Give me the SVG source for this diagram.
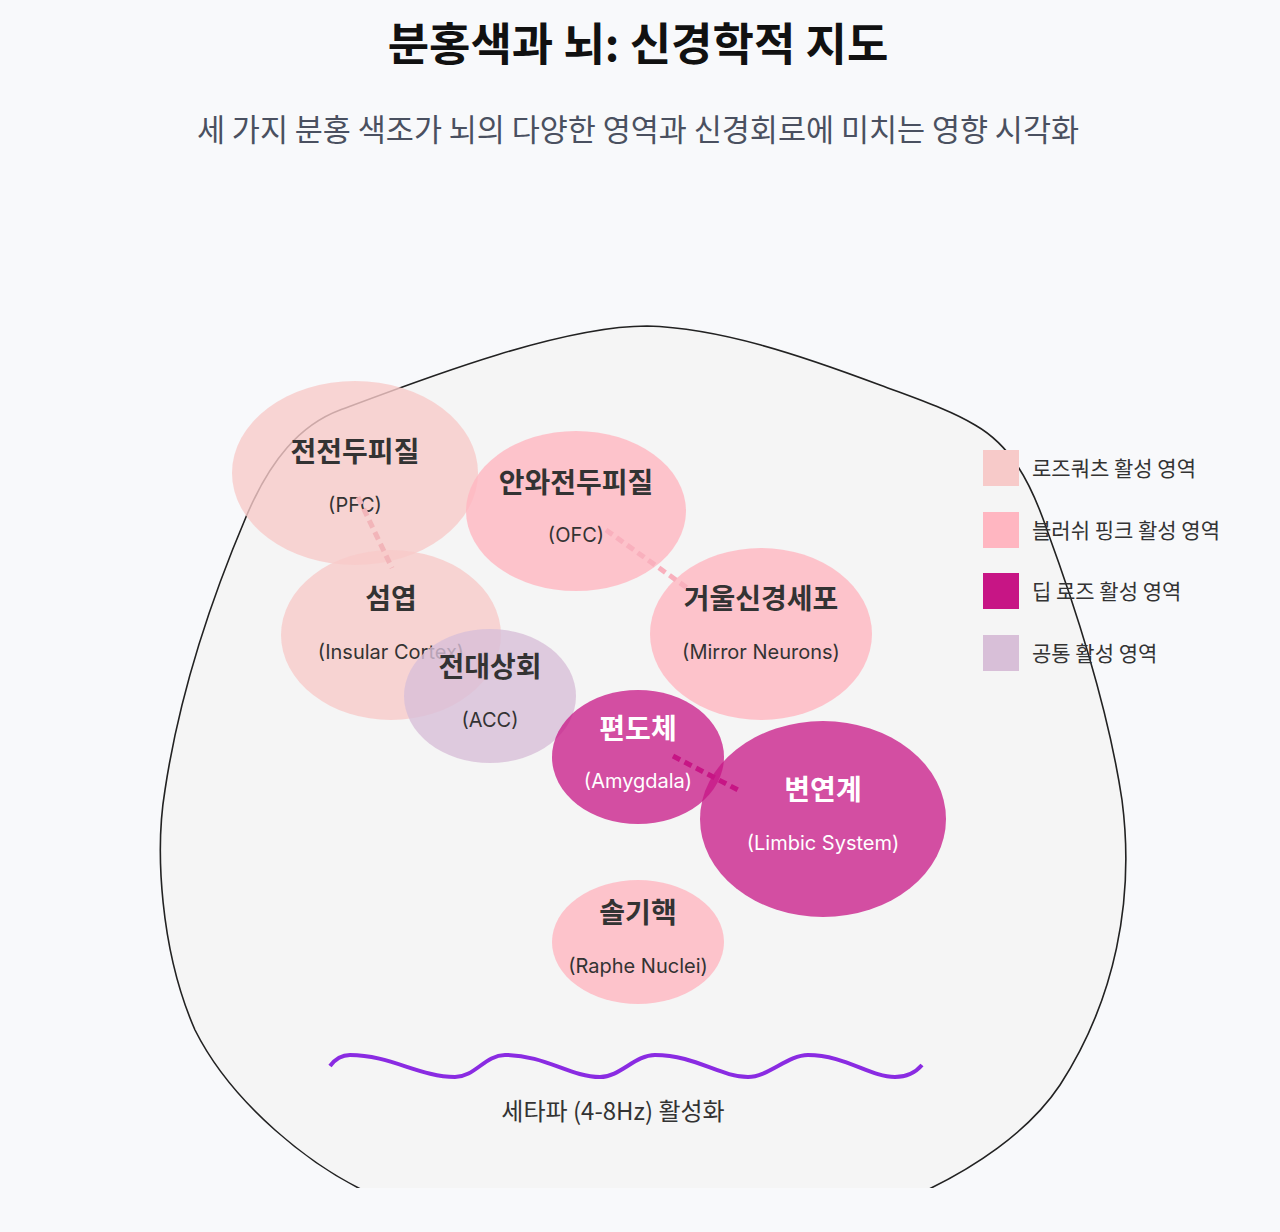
<svg xmlns="http://www.w3.org/2000/svg" width="1280" height="1232" viewBox="0 0 1280 1232">
<defs>
<style>
.title{font-family:"Noto Sans CJK KR","Noto Sans",sans-serif;font-weight:700;font-size:45px;fill:#111;text-anchor:middle}
.sub{font-family:"Noto Sans CJK KR","Noto Sans",sans-serif;font-size:30.5px;fill:#4a5060;text-anchor:middle}
.lbl{font-family:"Noto Sans CJK KR","Noto Sans",sans-serif;font-weight:700;font-size:28px;fill:#333;text-anchor:middle}
.en{font-family:Inter,"Noto Sans","Noto Sans CJK KR",sans-serif;font-size:20px;fill:#333;text-anchor:middle}
.w{fill:#fff}
.rq{fill:#f7cac9;opacity:0.8}
.bp{fill:#ffb6c1;opacity:0.8}
.dr{fill:#c71585;opacity:0.75}
.cm{fill:#d8bfd8;opacity:0.8}
.leg{font-family:"Noto Sans CJK KR","Noto Sans",sans-serif;font-size:21px;fill:#333}
.conn{fill:none;stroke-width:5;stroke-dasharray:8 5}
</style>
<clipPath id="clip"><rect x="0" y="0" width="1280" height="1188"/></clipPath>
</defs>
<rect width="1280" height="1232" fill="#f8f9fb"/>
<text class="title" x="638" y="61">분홍색과 뇌: 신경학적 지도</text>
<text class="sub" x="638" y="141">세 가지 분홍 색조가 뇌의 다양한 영역과 신경회로에 미치는 영향 시각화</text>

<g id="brain" clip-path="url(#clip)">
<path d="M647,326 C720,328 800,355 880,385 C920,400 950,410 975,425 C1010,445 1030,480 1047,530 C1080,620 1110,720 1122,800 C1135,900 1115,1000 1060,1085 C1030,1130 975,1170 905,1200 L385,1200 C310,1170 230,1100 195,1030 C160,950 155,850 165,790 C180,690 215,590 246,517 C270,460 300,425 340,410 C420,380 560,326 647,326 Z" fill="#f5f5f5" stroke="#222" stroke-width="1.6"/>
</g>

<g id="pfc">
<ellipse class="rq" cx="355" cy="473" rx="123" ry="92"/>
<text class="lbl" x="355" y="462">전전두피질</text>
<text class="en" x="355" y="512">(PFC)</text>
</g>
<g id="ofc">
<ellipse class="bp" cx="576" cy="511" rx="110" ry="80"/>
<text class="lbl" x="576" y="493">안와전두피질</text>
<text class="en" x="576" y="542">(OFC)</text>
</g>
<g id="insula">
<ellipse class="rq" cx="391" cy="635" rx="110" ry="85"/>
<text class="lbl" x="391" y="609">섬엽</text>
<text class="en" x="391" y="659">(Insular Cortex)</text>
</g>
<g id="mirror">
<ellipse class="bp" cx="761" cy="634" rx="111" ry="86"/>
<text class="lbl" x="761" y="609">거울신경세포</text>
<text class="en" x="761" y="659">(Mirror Neurons)</text>
</g>
<g id="acc">
<ellipse class="cm" cx="490" cy="696" rx="86" ry="67"/>
<text class="lbl" x="490" y="677">전대상회</text>
<text class="en" x="490" y="727">(ACC)</text>
</g>
<g id="amygdala">
<ellipse class="dr" cx="638" cy="757" rx="86" ry="67"/>
<text class="lbl w" x="638" y="739">편도체</text>
<text class="en w" x="638" y="788">(Amygdala)</text>
</g>
<g id="limbic">
<ellipse class="dr" cx="823" cy="819" rx="123" ry="98"/>
<text class="lbl w" x="823" y="800">변연계</text>
<text class="en w" x="823" y="850">(Limbic System)</text>
</g>
<g id="raphe">
<ellipse class="bp" cx="638" cy="942" rx="86" ry="62"/>
<text class="lbl" x="638" y="923">솔기핵</text>
<text class="en" x="638" y="973">(Raphe Nuclei)</text>
</g>

<g id="connectors">
<line class="conn" x1="358" y1="497" x2="392" y2="568" stroke="#f2b5b9"/>
<line class="conn" x1="606" y1="530" x2="690" y2="590" stroke="#f9b0bd"/>
<line class="conn" x1="673" y1="756" x2="738" y2="790" stroke="#c71585"/>
</g>

<g id="legend">
<rect x="983" y="450" width="36" height="36" fill="#f7cac9"/>
<text class="leg" x="1032" y="476">로즈쿼츠 활성 영역</text>
<rect x="983" y="512" width="36" height="36" fill="#ffb6c1"/>
<text class="leg" x="1032" y="538">블러쉬 핑크 활성 영역</text>
<rect x="983" y="573" width="36" height="36" fill="#c71585"/>
<text class="leg" x="1032" y="599">딥 로즈 활성 영역</text>
<rect x="983" y="635" width="36" height="36" fill="#d8bfd8"/>
<text class="leg" x="1032" y="661">공통 활성 영역</text>
</g>

<g id="theta">
<path d="M330,1066 C336,1058 342,1055 350,1055 C390,1055 420,1077 455,1077 C475,1077 485,1055 505,1055 C545,1055 570,1077 600,1077 C620,1077 635,1055 655,1055 C695,1055 720,1077 748,1077 C768,1077 788,1055 808,1055 C845,1055 870,1077 895,1077 C908,1077 916,1072 922,1065" fill="none" stroke="#8a2be2" stroke-width="4"/>
<text class="leg" x="613" y="1120" text-anchor="middle" style="font-size:24px">세타파 (4-8Hz) 활성화</text>
</g>
</svg>
